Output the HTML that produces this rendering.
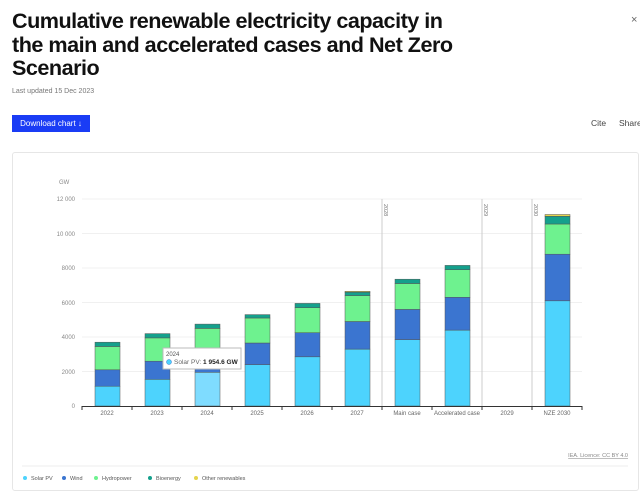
<!DOCTYPE html>
<html><head><meta charset="utf-8"><style>
body{margin:0;width:640px;height:492px;background:#fff;font-family:"Liberation Sans",sans-serif;overflow:hidden;position:relative}
h1{position:absolute;left:12px;top:9px;margin:0;font-size:21.6px;line-height:23.5px;font-weight:bold;color:#111;letter-spacing:-0.5px;width:445px}
.upd{position:absolute;left:12px;top:88px;font-size:7px;color:#777}
.btn{position:absolute;left:12px;top:115px;width:78px;height:17px;background:#1a3cf5;color:#fff;font-size:8px;line-height:17px;text-align:center}
.cs{position:absolute;top:118px;font-size:8.5px;color:#444}
.x{position:absolute;left:631px;top:14px;font-size:11px;color:#666}
.card{position:absolute;left:12px;top:152px;width:625px;height:337px;border:1px solid #e6e6e6;border-radius:3px}
</style></head><body>
<h1>Cumulative renewable electricity capacity in the main and accelerated cases and Net Zero Scenario</h1>
<div class="x">×</div>
<div class="upd">Last updated 15 Dec 2023</div>
<div class="btn">Download chart ↓</div>
<div class="cs" style="left:591px">Cite</div><div class="cs" style="left:619px">Share</div>
<div class="card"></div>
<svg width="640" height="492" style="position:absolute;left:0;top:0" font-family="Liberation Sans, sans-serif">
<g stroke="#f0f0f0" stroke-width="1">
<line x1="82" x2="582" y1="199" y2="199"/><line x1="82" x2="582" y1="233.5" y2="233.5"/><line x1="82" x2="582" y1="268" y2="268"/><line x1="82" x2="582" y1="302.5" y2="302.5"/><line x1="82" x2="582" y1="337" y2="337"/><line x1="82" x2="582" y1="371.5" y2="371.5"/>
</g>
<g font-size="6" fill="#888" text-anchor="end">
<text x="59" y="184" text-anchor="start">GW</text>
<text x="75" y="201">12 000</text><text x="75" y="236">10 000</text><text x="75" y="270">8000</text><text x="75" y="305">6000</text><text x="75" y="339">4000</text><text x="75" y="374">2000</text><text x="75" y="408">0</text>
</g>
<g stroke="#ccc"><line x1="382" x2="382" y1="199" y2="406"/><line x1="482" x2="482" y1="199" y2="406"/><line x1="532" x2="532" y1="199" y2="406"/></g>
<g font-size="5.5" fill="#777"><text transform="translate(384,204) rotate(90)">2028</text><text transform="translate(484,204) rotate(90)">2029</text><text transform="translate(534,204) rotate(90)">2030</text></g>
<g stroke="#555" stroke-width="0.5">
<rect x="95" y="386.2" width="25" height="19.8" fill="#4dd3fd"/><rect x="95" y="369.8" width="25" height="16.4" fill="#3b75d0"/><rect x="95" y="346.5" width="25" height="23.3" fill="#6ef28f"/><rect x="95" y="342.2" width="25" height="4.3" fill="#14a08c"/>
<rect x="145" y="379.3" width="25" height="26.7" fill="#4dd3fd"/><rect x="145" y="361.2" width="25" height="18.1" fill="#3b75d0"/><rect x="145" y="337.9" width="25" height="23.3" fill="#6ef28f"/><rect x="145" y="333.6" width="25" height="4.3" fill="#14a08c"/>
<rect x="195" y="372.3" width="25" height="33.7" fill="#7fdcff"/><rect x="195" y="363" width="25" height="9.3" fill="#3b75d0"/><rect x="195" y="328.4" width="25" height="34.6" fill="#6ef28f"/><rect x="195" y="324.1" width="25" height="4.3" fill="#14a08c"/>
<rect x="245" y="364.6" width="25" height="41.4" fill="#4dd3fd"/><rect x="245" y="343" width="25" height="21.6" fill="#3b75d0"/><rect x="245" y="318" width="25" height="25" fill="#6ef28f"/><rect x="245" y="314.6" width="25" height="3.4" fill="#14a08c"/>
<rect x="295" y="356.8" width="25" height="49.2" fill="#4dd3fd"/><rect x="295" y="332.7" width="25" height="24.1" fill="#3b75d0"/><rect x="295" y="307.7" width="25" height="25" fill="#6ef28f"/><rect x="295" y="303.4" width="25" height="4.3" fill="#14a08c"/>
<rect x="345" y="349.1" width="25" height="56.9" fill="#4dd3fd"/><rect x="345" y="321.5" width="25" height="27.6" fill="#3b75d0"/><rect x="345" y="295.6" width="25" height="25.9" fill="#6ef28f"/><rect x="345" y="292.2" width="25" height="3.4" fill="#14a08c"/><rect x="345" y="291.3" width="25" height="0.9" fill="#e5d44d"/>
<rect x="395" y="339.6" width="25" height="66.4" fill="#4dd3fd"/><rect x="395" y="309.4" width="25" height="30.2" fill="#3b75d0"/><rect x="395" y="283.5" width="25" height="25.9" fill="#6ef28f"/><rect x="395" y="279.2" width="25" height="4.3" fill="#14a08c"/>
<rect x="445" y="330.1" width="25" height="75.9" fill="#4dd3fd"/><rect x="445" y="297.3" width="25" height="32.8" fill="#3b75d0"/><rect x="445" y="269.7" width="25" height="27.6" fill="#6ef28f"/><rect x="445" y="265.4" width="25" height="4.3" fill="#14a08c"/>
<rect x="545" y="300.8" width="25" height="105.2" fill="#4dd3fd"/><rect x="545" y="254.2" width="25" height="46.6" fill="#3b75d0"/><rect x="545" y="224" width="25" height="30.2" fill="#6ef28f"/><rect x="545" y="216.3" width="25" height="7.7" fill="#14a08c"/><rect x="545" y="214.5" width="25" height="1.8" fill="#e5d44d"/>
</g>
<line x1="82" x2="582" y1="406.5" y2="406.5" stroke="#333"/>
<g stroke="#333"><line x1="82" x2="82" y1="406" y2="410"/><line x1="132" x2="132" y1="406" y2="410"/><line x1="182" x2="182" y1="406" y2="410"/><line x1="232" x2="232" y1="406" y2="410"/><line x1="282" x2="282" y1="406" y2="410"/><line x1="332" x2="332" y1="406" y2="410"/><line x1="382" x2="382" y1="406" y2="410"/><line x1="432" x2="432" y1="406" y2="410"/><line x1="482" x2="482" y1="406" y2="410"/><line x1="532" x2="532" y1="406" y2="410"/><line x1="582" x2="582" y1="406" y2="410"/></g>
<g font-size="6" fill="#666" text-anchor="middle">
<text x="107" y="415">2022</text><text x="157" y="415">2023</text><text x="207" y="415">2024</text><text x="257" y="415">2025</text><text x="307" y="415">2026</text><text x="357" y="415">2027</text><text x="407" y="415">Main case</text><text x="457" y="415">Accelerated case</text><text x="507" y="415">2029</text><text x="557" y="415">NZE 2030</text>
</g>
<rect x="163" y="348" width="78" height="21" fill="#fff" stroke="#bbb"/>
<text x="166" y="356" font-size="6" fill="#555">2024</text>
<circle cx="169" cy="362" r="2.5" fill="#4dd3fd" stroke="#3b75d0" stroke-width="0.5"/>
<text x="174" y="364" font-size="6.5" fill="#666">Solar PV: <tspan font-weight="bold" fill="#222">1 954.6 GW</tspan></text>
<text x="628" y="457" font-size="5.5" fill="#888" text-anchor="end" text-decoration="underline">IEA. Licence: CC BY 4.0</text>
<line x1="22" x2="628" y1="466" y2="466" stroke="#eee"/>
<g font-size="5.5" fill="#555">
<circle cx="25" cy="478" r="2" fill="#4dd3fd"/><text x="31" y="480">Solar PV</text>
<circle cx="64" cy="478" r="2" fill="#3b75d0"/><text x="70" y="480">Wind</text>
<circle cx="96" cy="478" r="2" fill="#6ef28f"/><text x="102" y="480">Hydropower</text>
<circle cx="150" cy="478" r="2" fill="#14a08c"/><text x="156" y="480">Bioenergy</text>
<circle cx="196" cy="478" r="2" fill="#e5d44d"/><text x="202" y="480">Other renewables</text>
</g>
</svg>
</body></html>
